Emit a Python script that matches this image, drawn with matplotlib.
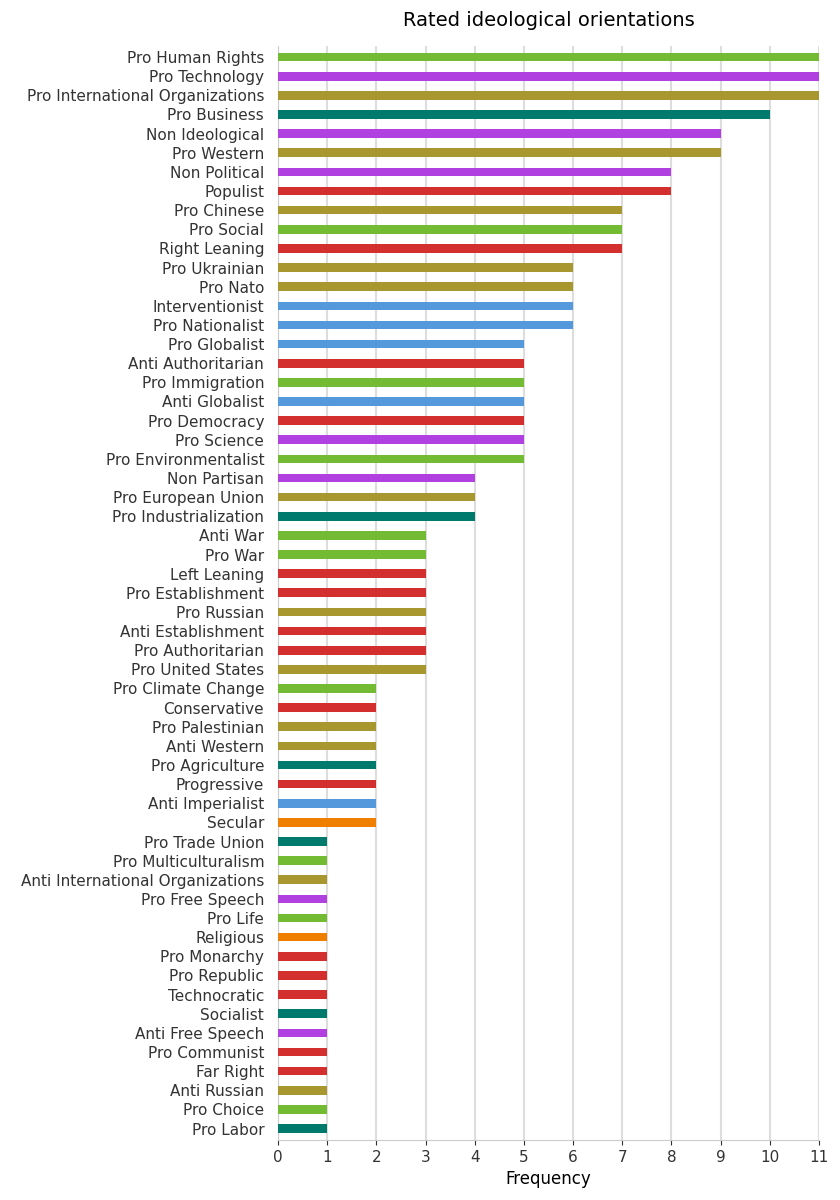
import matplotlib
matplotlib.use("Agg")
import matplotlib.pyplot as plt

labels = ["Pro Human Rights","Pro Technology","Pro International Organizations","Pro Business","Non Ideological","Pro Western","Non Political","Populist","Pro Chinese","Pro Social","Right Leaning","Pro Ukrainian","Pro Nato","Interventionist","Pro Nationalist","Pro Globalist","Anti Authoritarian","Pro Immigration","Anti Globalist","Pro Democracy","Pro Science","Pro Environmentalist","Non Partisan","Pro European Union","Pro Industrialization","Anti War","Pro War","Left Leaning","Pro Establishment","Pro Russian","Anti Establishment","Pro Authoritarian","Pro United States","Pro Climate Change","Conservative","Pro Palestinian","Anti Western","Pro Agriculture","Progressive","Anti Imperialist","Secular","Pro Trade Union","Pro Multiculturalism","Anti International Organizations","Pro Free Speech","Pro Life","Religious","Pro Monarchy","Pro Republic","Technocratic","Socialist","Anti Free Speech","Pro Communist","Far Right","Anti Russian","Pro Choice","Pro Labor"]
values = [11,11,11,10,9,9,8,8,7,7,7,6,6,6,6,5,5,5,5,5,5,5,4,4,4,3,3,3,3,3,3,3,3,2,2,2,2,2,2,2,2,1,1,1,1,1,1,1,1,1,1,1,1,1,1,1,1]
groups = ["G","P","O","T","P","O","P","R","O","G","R","O","O","B","B","B","R","G","B","R","P","G","P","O","T","G","G","R","R","O","R","R","O","G","R","O","O","T","R","B","Y","T","G","O","P","G","Y","R","R","R","T","P","R","R","O","G","T"]
palette = {"G":"#74bb34","P":"#b040e0","O":"#a8962e","T":"#007a6c","R":"#d32f2f","B":"#5599dd","Y":"#f07f00"}

fig = plt.figure(figsize=(8.4,12), dpi=100)
ax = fig.add_axes([0.331,0.05,0.644,0.912])
y = list(range(len(labels)))
ax.barh(y, values, height=0.45, color=[palette[g] for g in groups], zorder=3)
ax.set_yticks(y)
ax.set_yticklabels(labels, fontsize=11, color="#333333")
ax.set_ylim(len(labels)-0.4, -0.6)
ax.set_xlim(0,11)
ax.set_xticks(range(12))
ax.tick_params(axis='x', labelsize=11, colors="#333333")
ax.tick_params(axis='y', length=0, pad=10)
ax.grid(axis='x', color="#dddddd", linewidth=1.5, zorder=0)
for s in ["top","right"]:
    ax.spines[s].set_visible(False)
for s in ["left","bottom"]:
    ax.spines[s].set_color("#cccccc")
ax.set_xlabel("Frequency", fontsize=12)
ax.set_title("Rated ideological orientations", fontsize=14, pad=14)
fig.savefig("out.png")
